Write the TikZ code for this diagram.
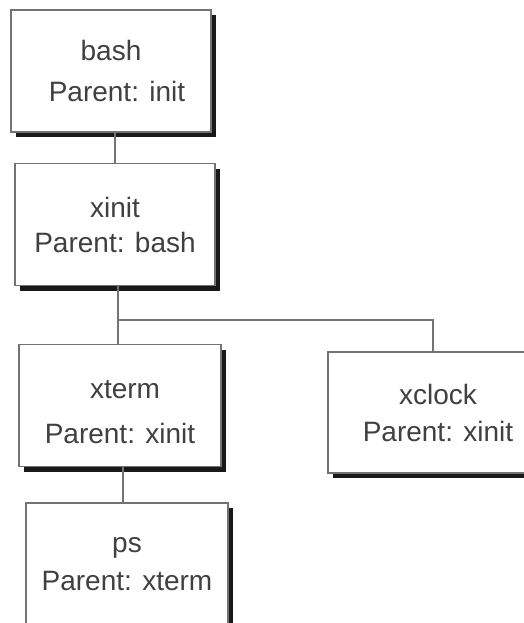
\documentclass[tikz,border=0pt]{standalone}
\usepackage{fontspec}
\setmainfont{Liberation Sans}
\usetikzlibrary{shadows}
\begin{document}
\begin{tikzpicture}[x=1pt,y=-1pt,
  proc/.style={draw=black!55, line width=1.5pt, fill=white, rectangle,
    minimum width=200pt, minimum height=122pt, inner sep=0pt, align=center,
    text=black!75, font=\fontsize{28}{32}\selectfont,
    drop shadow={shadow xshift=5pt, shadow yshift=-5pt, fill=black!90, opacity=1}},
  conn/.style={draw=black!55, line width=1.5pt}]
\clip (0,0) rectangle (524,623);
\fill[white] (0,0) rectangle (524,623);
\node[proc] (bash) at (111,71) {bash\\[9pt]\hspace*{12pt}Parent: init};
\node[proc] (xinit) at (115,224.5) {xinit\\[3pt]Parent: bash};
\node[proc, minimum width=202pt] (xterm) at (120,405.5) {\rule{0pt}{31pt}\hspace*{10pt}xterm\\[13pt]Parent: xinit};
\node[proc, minimum width=202pt] (ps) at (127,564) {ps\\[6pt]Parent: xterm};
\node[proc, minimum width=220pt, minimum height=121pt] (xclock) at (438,412.5) {xclock\\[5pt]Parent: xinit};
\coordinate (j) at (118,320);
\coordinate (jc) at (433,320);
\coordinate (b) at (115,132);
\coordinate (t) at (123,467);
\draw[conn] (bash.south -| b) -- (xinit.north -| b);
\draw[conn] (xinit.south -| j) -- (j) -- (xterm.north -| j);
\draw[conn] (j) -- (jc) -- (xclock.north -| jc);
\draw[conn] (xterm.south -| t) -- (ps.north -| t);
\end{tikzpicture}
\end{document}
